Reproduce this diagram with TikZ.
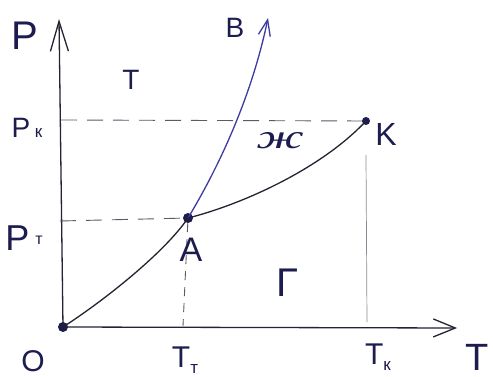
\documentclass[tikz,border=0pt]{standalone}
\usepackage{fontspec}
\setmainfont{Liberation Sans}
\newfontfamily\cyrserif{Liberation Serif}
\usetikzlibrary{arrows.meta}
\definecolor{ink}{RGB}{28,28,78}
\definecolor{pen}{RGB}{35,35,50}
\definecolor{bluepen}{RGB}{60,60,160}
\definecolor{dashpen}{RGB}{90,90,105}
\begin{document}
\begin{tikzpicture}[x=1pt,y=-1pt,
  lbl/.style={text=ink, inner sep=0pt, font=\fontsize{#1}{#1}\selectfont},
  dot/.style={circle, fill=ink, inner sep=0pt, minimum size=#1},
  axisln/.style={draw=pen, line width=1.3pt},
  curveln/.style={draw=pen, line width=1.3pt},
  dashln/.style={draw=dashpen, line width=0.9pt, dash pattern=on 16pt off 10pt},
  thinln/.style={draw=dashpen!70, line width=0.7pt}]
\useasboundingbox (0,0) rectangle (493,377);
\fill[white] (0,0) rectangle (493,377);

% points
\node[dot=10pt] (O) at (63,327) {};
\node[dot=10pt] (A) at (188,218) {};
\node[dot=8pt] (K) at (366,121) {};
\coordinate (ytip) at (59,19);
\coordinate (xtip) at (457,328);
\coordinate (Btip) at (268,18);
\coordinate (yPk) at (61,120);
\coordinate (yPt) at (60,221);
\coordinate (xTt) at (183,326);
\coordinate (kTop) at (366,155);
\coordinate (xTk) at (367,322);

% axes
\draw[axisln, -{Straight Barb[length=30pt,width=18pt,line width=1.3pt]}] (O.center) -- (ytip);
\draw[axisln, -{Straight Barb[length=22pt,width=18pt,line width=1.3pt]}] (O.center) -- (xtip);

% dashed helper lines
\draw[dashln] (yPk) -- (K);
\draw[dashln] (yPt) -- (A);
\draw[dashln, dash pattern=on 9pt off 7pt] (A) -- (xTt);
\draw[thinln] (kTop) -- (xTk);

% phase curves
\draw[curveln] (O.center) .. controls (105,300) and (165,252) .. (A.center);
\draw[curveln, draw=bluepen, -{Straight Barb[length=16pt,width=12pt,line width=1.3pt]}] (A.center) .. controls (220,165) and (252,95) .. (Btip);
\draw[curveln] (A.center) .. controls (240,205) and (320,170) .. (K.center);

% labels
\node[lbl=40] (lP) at (25,36) {P};
\node[lbl=28] (lB) at (235,28) {B};
\node[lbl=28] (lTs) at (131,80) {Т};
\node[lbl=28] (lPk) at (27,128) {P\,{\fontsize{17}{17}\selectfont к}};
\node[lbl=34] (lZh) at (280,141) {\cyrserif\itshape\scalebox{1.5}[1]{ж}};
\node[lbl=32] (lK) at (386,134) {K};
\node[lbl=36] (lPt) at (24,238) {P\,\raisebox{6pt}{\fontsize{16}{16}\selectfont т}};
\node[lbl=34] (lA) at (191,250) {A};
\node[lbl=40] (lG) at (287,283) {Г};
\node[lbl=30] (lO) at (33,361) {O};
\node[lbl=30] (lTt) at (185,360) {T\raisebox{-6pt}{\fontsize{17}{17}\selectfont т}};
\node[lbl=30] (lTk) at (378,357) {T\raisebox{-6pt}{\fontsize{17}{17}\selectfont к}};
\node[lbl=38] (lT) at (477,357) {T};
\end{tikzpicture}
\end{document}
